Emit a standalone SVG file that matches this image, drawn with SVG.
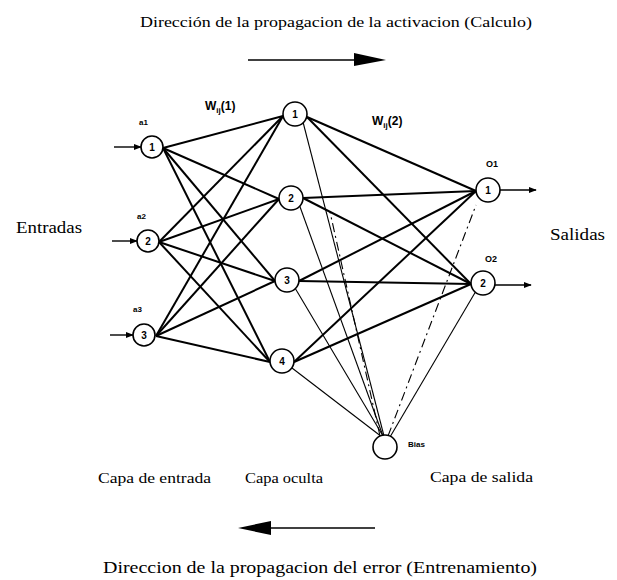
<svg xmlns="http://www.w3.org/2000/svg" width="617" height="580" viewBox="0 0 617 580">
<defs>
<marker id="ah" viewBox="0 0 10 10" refX="9" refY="5" markerWidth="8" markerHeight="8" markerUnits="userSpaceOnUse" orient="auto"><path d="M0,1 L10,5 L0,9 Z" fill="#000"/></marker>
</defs>
<style>
.serif{font-family:"Liberation Serif","Times New Roman",serif;fill:#000}
.lab{font-family:"Liberation Sans",Arial,sans-serif;font-weight:bold;fill:#000}
.node{fill:#fff;stroke:#000;stroke-width:1.6}
.num{font-family:"Liberation Sans",Arial,sans-serif;font-weight:bold;font-size:10px;text-anchor:middle;fill:#000}
.w{stroke:#000;stroke-width:2;fill:none}
.t{stroke:#000;stroke-width:1.1;fill:none}
.dd{stroke:#000;stroke-width:1.1;fill:none;stroke-dasharray:9 4 2 4}
.io{stroke:#000;stroke-width:1.4;fill:none}
</style>
<rect width="617" height="580" fill="#fff"/>

<text class="serif" x="140" y="27" font-size="15" textLength="392" lengthAdjust="spacingAndGlyphs">Dirección de la propagacion de la activacion (Calculo)</text>
<g id="arrow-forward">
<line x1="248" y1="60" x2="356" y2="60" stroke="#000" stroke-width="1.5"/>
<path d="M354,53 L386,60 L354,66 Z" fill="#000"/>
</g>

<g id="connectors">
<!-- input to hidden -->
<line class="w" x1="163" y1="148" x2="283" y2="116"/>
<line class="w" x1="163" y1="148" x2="279" y2="199"/>
<line class="w" x1="163" y1="148" x2="275" y2="281"/>
<line class="w" x1="163" y1="148" x2="270" y2="362"/>
<line class="w" x1="159" y1="242" x2="283" y2="116"/>
<line class="w" x1="159" y1="242" x2="279" y2="199"/>
<line class="w" x1="159" y1="242" x2="275" y2="281"/>
<line class="w" x1="159" y1="242" x2="270" y2="362"/>
<line class="w" x1="156" y1="336" x2="283" y2="116"/>
<line class="w" x1="156" y1="336" x2="279" y2="199"/>
<line class="w" x1="156" y1="336" x2="275" y2="281"/>
<line class="w" x1="156" y1="336" x2="270" y2="362"/>
<!-- hidden to output -->
<line class="w" x1="307" y1="117" x2="476" y2="191"/>
<line class="w" x1="307" y1="117" x2="471" y2="284"/>
<line class="w" x1="303" y1="198" x2="476" y2="191"/>
<line class="w" x1="303" y1="198" x2="471" y2="284"/>
<line class="w" x1="299" y1="281" x2="476" y2="191"/>
<line class="w" x1="299" y1="281" x2="471" y2="284"/>
<line class="w" x1="294" y1="362" x2="476" y2="191"/>
<line class="w" x1="294" y1="362" x2="471" y2="284"/>
<!-- bias -->
<line class="t" x1="384" y1="436" x2="303" y2="122"/>
<line class="t" x1="383" y1="436" x2="299" y2="204"/>
<line class="t" x1="383" y1="436" x2="295" y2="288"/>
<line class="t" x1="382" y1="437" x2="292" y2="368"/>
<line class="dd" x1="380" y1="436" x2="330" y2="212"/>
<line class="dd" x1="388" y1="436" x2="476" y2="205"/>
<line class="t" x1="390" y1="437" x2="476" y2="291"/>
<!-- input / output arrows -->
<line class="io" x1="114" y1="147" x2="141" y2="147" marker-end="url(#ah)"/>
<line class="io" x1="112" y1="241" x2="137" y2="241" marker-end="url(#ah)"/>
<line class="io" x1="110" y1="335" x2="133" y2="335" marker-end="url(#ah)"/>
<line class="io" x1="500" y1="190" x2="536" y2="190" marker-end="url(#ah)"/>
<line class="io" x1="495" y1="285" x2="531" y2="285" marker-end="url(#ah)"/>
</g>

<g id="in1"><circle class="node" cx="152" cy="147" r="11"/><text class="num" x="152" y="151">1</text><text class="lab" x="139" y="125" font-size="8">a1</text></g>
<g id="in2"><circle class="node" cx="148" cy="241" r="11"/><text class="num" x="148" y="245">2</text><text class="lab" x="137" y="219" font-size="8">a2</text></g>
<g id="in3"><circle class="node" cx="144" cy="335" r="11"/><text class="num" x="144" y="339">3</text><text class="lab" x="133" y="312" font-size="8">a3</text></g>

<g id="h1"><circle class="node" cx="295" cy="114" r="12"/><text class="num" x="295" y="118">1</text></g>
<g id="h2"><circle class="node" cx="291" cy="198" r="12"/><text class="num" x="291" y="202">2</text></g>
<g id="h3"><circle class="node" cx="287" cy="280" r="12"/><text class="num" x="287" y="284">3</text></g>
<g id="h4"><circle class="node" cx="282" cy="361" r="12"/><text class="num" x="282" y="365">4</text></g>

<g id="o1"><circle class="node" cx="488" cy="190" r="12"/><text class="num" x="488" y="194">1</text><text class="lab" x="486" y="167" font-size="9">O1</text></g>
<g id="o2"><circle class="node" cx="483" cy="283" r="12"/><text class="num" x="483" y="287">2</text><text class="lab" x="485" y="262" font-size="9">O2</text></g>

<g id="bias"><circle class="node" cx="385" cy="447" r="12"/><text class="lab" x="408" y="447" font-size="8">Bias</text></g>

<g id="weights">
<text class="lab" x="205" y="110" font-size="12">W<tspan font-size="8" dy="3">ij</tspan><tspan dy="-3">(1)</tspan></text>
<text class="lab" x="372" y="125" font-size="12">W<tspan font-size="8" dy="3">ij</tspan><tspan dy="-3">(2)</tspan></text>
</g>

<text class="serif" x="16" y="233" font-size="16" textLength="66" lengthAdjust="spacingAndGlyphs">Entradas</text>
<text class="serif" x="550" y="240" font-size="16" textLength="55" lengthAdjust="spacingAndGlyphs">Salidas</text>

<text class="serif" x="98" y="483" font-size="15" textLength="113" lengthAdjust="spacingAndGlyphs">Capa de entrada</text>
<text class="serif" x="245" y="483" font-size="15" textLength="78" lengthAdjust="spacingAndGlyphs">Capa oculta</text>
<text class="serif" x="430" y="482" font-size="15" textLength="103" lengthAdjust="spacingAndGlyphs">Capa de salida</text>

<g id="arrow-backward">
<line x1="268" y1="528" x2="375" y2="528" stroke="#000" stroke-width="1.5"/>
<path d="M271,521 L238,528 L271,535 Z" fill="#000"/>
</g>
<text class="serif" x="103" y="573" font-size="16" textLength="434" lengthAdjust="spacingAndGlyphs">Direccion de la propagacion del error (Entrenamiento)</text>
</svg>
